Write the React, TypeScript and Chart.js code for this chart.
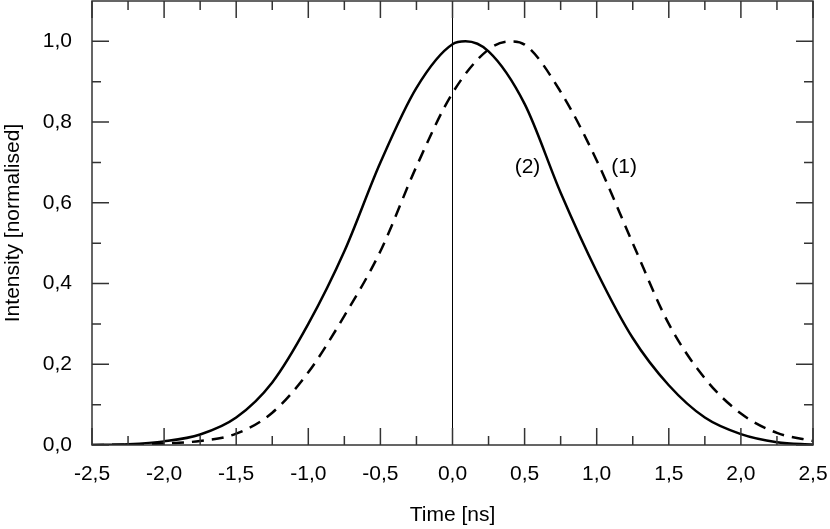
import { useEffect, useRef } from 'react';
import Chart from 'chart.js/auto';

// curve (2), solid
const timeSolid = [-2.5, -2.25, -2, -1.75, -1.5, -1.25, -1, -0.75, -0.5, -0.25, 0, 0.09, 0.25, 0.5, 0.75, 1, 1.25, 1.5, 1.75, 2, 2.25, 2.5];
const intensitySolid = [0.0, 0.002, 0.009, 0.026, 0.068, 0.155, 0.3, 0.48, 0.7, 0.885, 0.993, 1.0, 0.975, 0.845, 0.625, 0.43, 0.265, 0.148, 0.068, 0.027, 0.007, 0.001];

// curve (1), dashed
const timeDashed = [-2.5, -2.25, -2, -1.75, -1.5, -1.25, -1, -0.75, -0.5, -0.25, 0, 0.25, 0.4, 0.5, 0.75, 1, 1.25, 1.5, 1.75, 2, 2.25, 2.5];
const intensityDashed = [0.0, 0.001, 0.004, 0.01, 0.028, 0.08, 0.18, 0.32, 0.48, 0.69, 0.872, 0.98, 1.0, 0.992, 0.875, 0.705, 0.5, 0.3, 0.165, 0.078, 0.03, 0.01];

const xMajorTicks = [-2.5, -2, -1.5, -1, -0.5, 0, 0.5, 1, 1.5, 2, 2.5];
const xMinorTicks = [-2.25, -1.75, -1.25, -0.75, -0.25, 0.25, 0.75, 1.25, 1.75, 2.25];
const yMajorTicks = [0, 0.2, 0.4, 0.6, 0.8, 1.0];
const yMinorTicks = [0.1, 0.3, 0.5, 0.7, 0.9];

const curveLabels = [
  { text: '(2)', x: 0.52, y: 0.687 },
  { text: '(1)', x: 1.19, y: 0.687 },
];

const FONT = '"Liberation Sans", Arial, sans-serif';
const SIZE = 21;

const fmt = (v: number) => v.toFixed(1).replace('.', ',');

const noPad = (s: any) => {
  s.paddingLeft = 0;
  s.paddingRight = 0;
  s.paddingTop = 0;
  s.paddingBottom = 0;
};

const framePlugin = {
  id: 'frame',
  beforeDatasetsDraw(chart: any) {
    const { ctx, chartArea: a, scales } = chart;
    const x0 = scales.x.getPixelForValue(0);
    ctx.save();
    ctx.strokeStyle = '#000';
    ctx.lineWidth = 1;
    ctx.beginPath();
    ctx.moveTo(x0, a.top);
    ctx.lineTo(x0, a.bottom);
    ctx.stroke();
    ctx.restore();
  },
  afterDatasetsDraw(chart: any) {
    const { ctx, chartArea: a, scales } = chart;
    const major = 17;
    const minor = 9;
    ctx.save();
    ctx.strokeStyle = '#333';
    ctx.lineWidth = 1.5;
    ctx.strokeRect(a.left, a.top, a.right - a.left, a.bottom - a.top);
    ctx.beginPath();
    const xTick = (v: number, len: number) => {
      const px = scales.x.getPixelForValue(v);
      ctx.moveTo(px, a.bottom);
      ctx.lineTo(px, a.bottom - len);
      ctx.moveTo(px, a.top);
      ctx.lineTo(px, a.top + len);
    };
    const yTick = (v: number, len: number) => {
      const py = scales.y.getPixelForValue(v);
      ctx.moveTo(a.left, py);
      ctx.lineTo(a.left + len, py);
      ctx.moveTo(a.right, py);
      ctx.lineTo(a.right - len, py);
    };
    xMajorTicks.forEach((v) => xTick(v, major));
    xMinorTicks.forEach((v) => xTick(v, minor));
    yMajorTicks.forEach((v) => yTick(v, major));
    yMinorTicks.forEach((v) => yTick(v, minor));
    ctx.stroke();

    ctx.fillStyle = '#000';
    ctx.font = `${SIZE}px ${FONT}`;
    ctx.textAlign = 'center';
    ctx.textBaseline = 'middle';
    curveLabels.forEach((l) => {
      ctx.fillText(l.text, scales.x.getPixelForValue(l.x), scales.y.getPixelForValue(l.y));
    });
    ctx.restore();
  },
};

const App = () => {
  const chartRef = useRef<HTMLCanvasElement>(null);

  useEffect(() => {
    let chart: Chart | undefined;
    if (chartRef.current) {
      chart = new Chart(chartRef.current, {
        type: 'line',
        data: {
          datasets: [
            {
              label: '(2)',
              data: timeSolid.map((t, i) => ({ x: t, y: intensitySolid[i] })),
              borderColor: '#000',
              borderWidth: 2.5,
              pointRadius: 0,
              cubicInterpolationMode: 'monotone',
              fill: false,
            },
            {
              label: '(1)',
              data: timeDashed.map((t, i) => ({ x: t, y: intensityDashed[i] })),
              borderColor: '#000',
              borderWidth: 2.5,
              borderDash: [12, 8],
              pointRadius: 0,
              cubicInterpolationMode: 'monotone',
              fill: false,
            },
          ],
        },
        options: {
          responsive: false,
          animation: false,
          layout: { padding: { top: 1, right: 17, left: 0, bottom: 0 } },
          plugins: {
            legend: { display: false },
            tooltip: { enabled: false },
          },
          scales: {
            x: {
              type: 'linear',
              min: -2.5,
              max: 2.5,
              afterBuildTicks: (s: any) => {
                s.ticks = xMajorTicks.map((v) => ({ value: v }));
              },
              afterFit: (s: any) => {
                s.height = 84;
                noPad(s);
              },
              grid: { display: false, drawTicks: false },
              border: { display: false },
              ticks: {
                padding: 17,
                color: '#000',
                font: { family: FONT, size: SIZE },
                maxRotation: 0,
                autoSkip: false,
                callback: (v: any) => fmt(Number(v)),
              },
              title: {
                display: true,
                text: 'Time [ns]',
                color: '#000',
                font: { family: FONT, size: SIZE },
                padding: { top: 0, bottom: 1 },
              },
            },
            y: {
              type: 'linear',
              min: 0,
              max: 1.1,
              afterBuildTicks: (s: any) => {
                s.ticks = yMajorTicks.map((v) => ({ value: v }));
              },
              afterFit: (s: any) => {
                s.width = 92;
                noPad(s);
              },
              grid: { display: false, drawTicks: false },
              border: { display: false },
              ticks: {
                padding: 20,
                color: '#000',
                font: { family: FONT, size: SIZE },
                autoSkip: false,
                callback: (v: any) => fmt(Number(v)),
              },
              title: {
                display: true,
                text: 'Intensity [normalised]',
                color: '#000',
                font: { family: FONT, size: SIZE },
                padding: { top: 1, bottom: 0 },
              },
            },
          },
        },
        plugins: [framePlugin],
      });
    }
    return () => {
      chart?.destroy();
    };
  }, []);

  return (
    <div style={{ position: 'absolute', left: 0, top: 0, width: 830, height: 529, background: '#fff' }}>
      <canvas ref={chartRef} width={830} height={529}></canvas>
    </div>
  );
};

export default App;
